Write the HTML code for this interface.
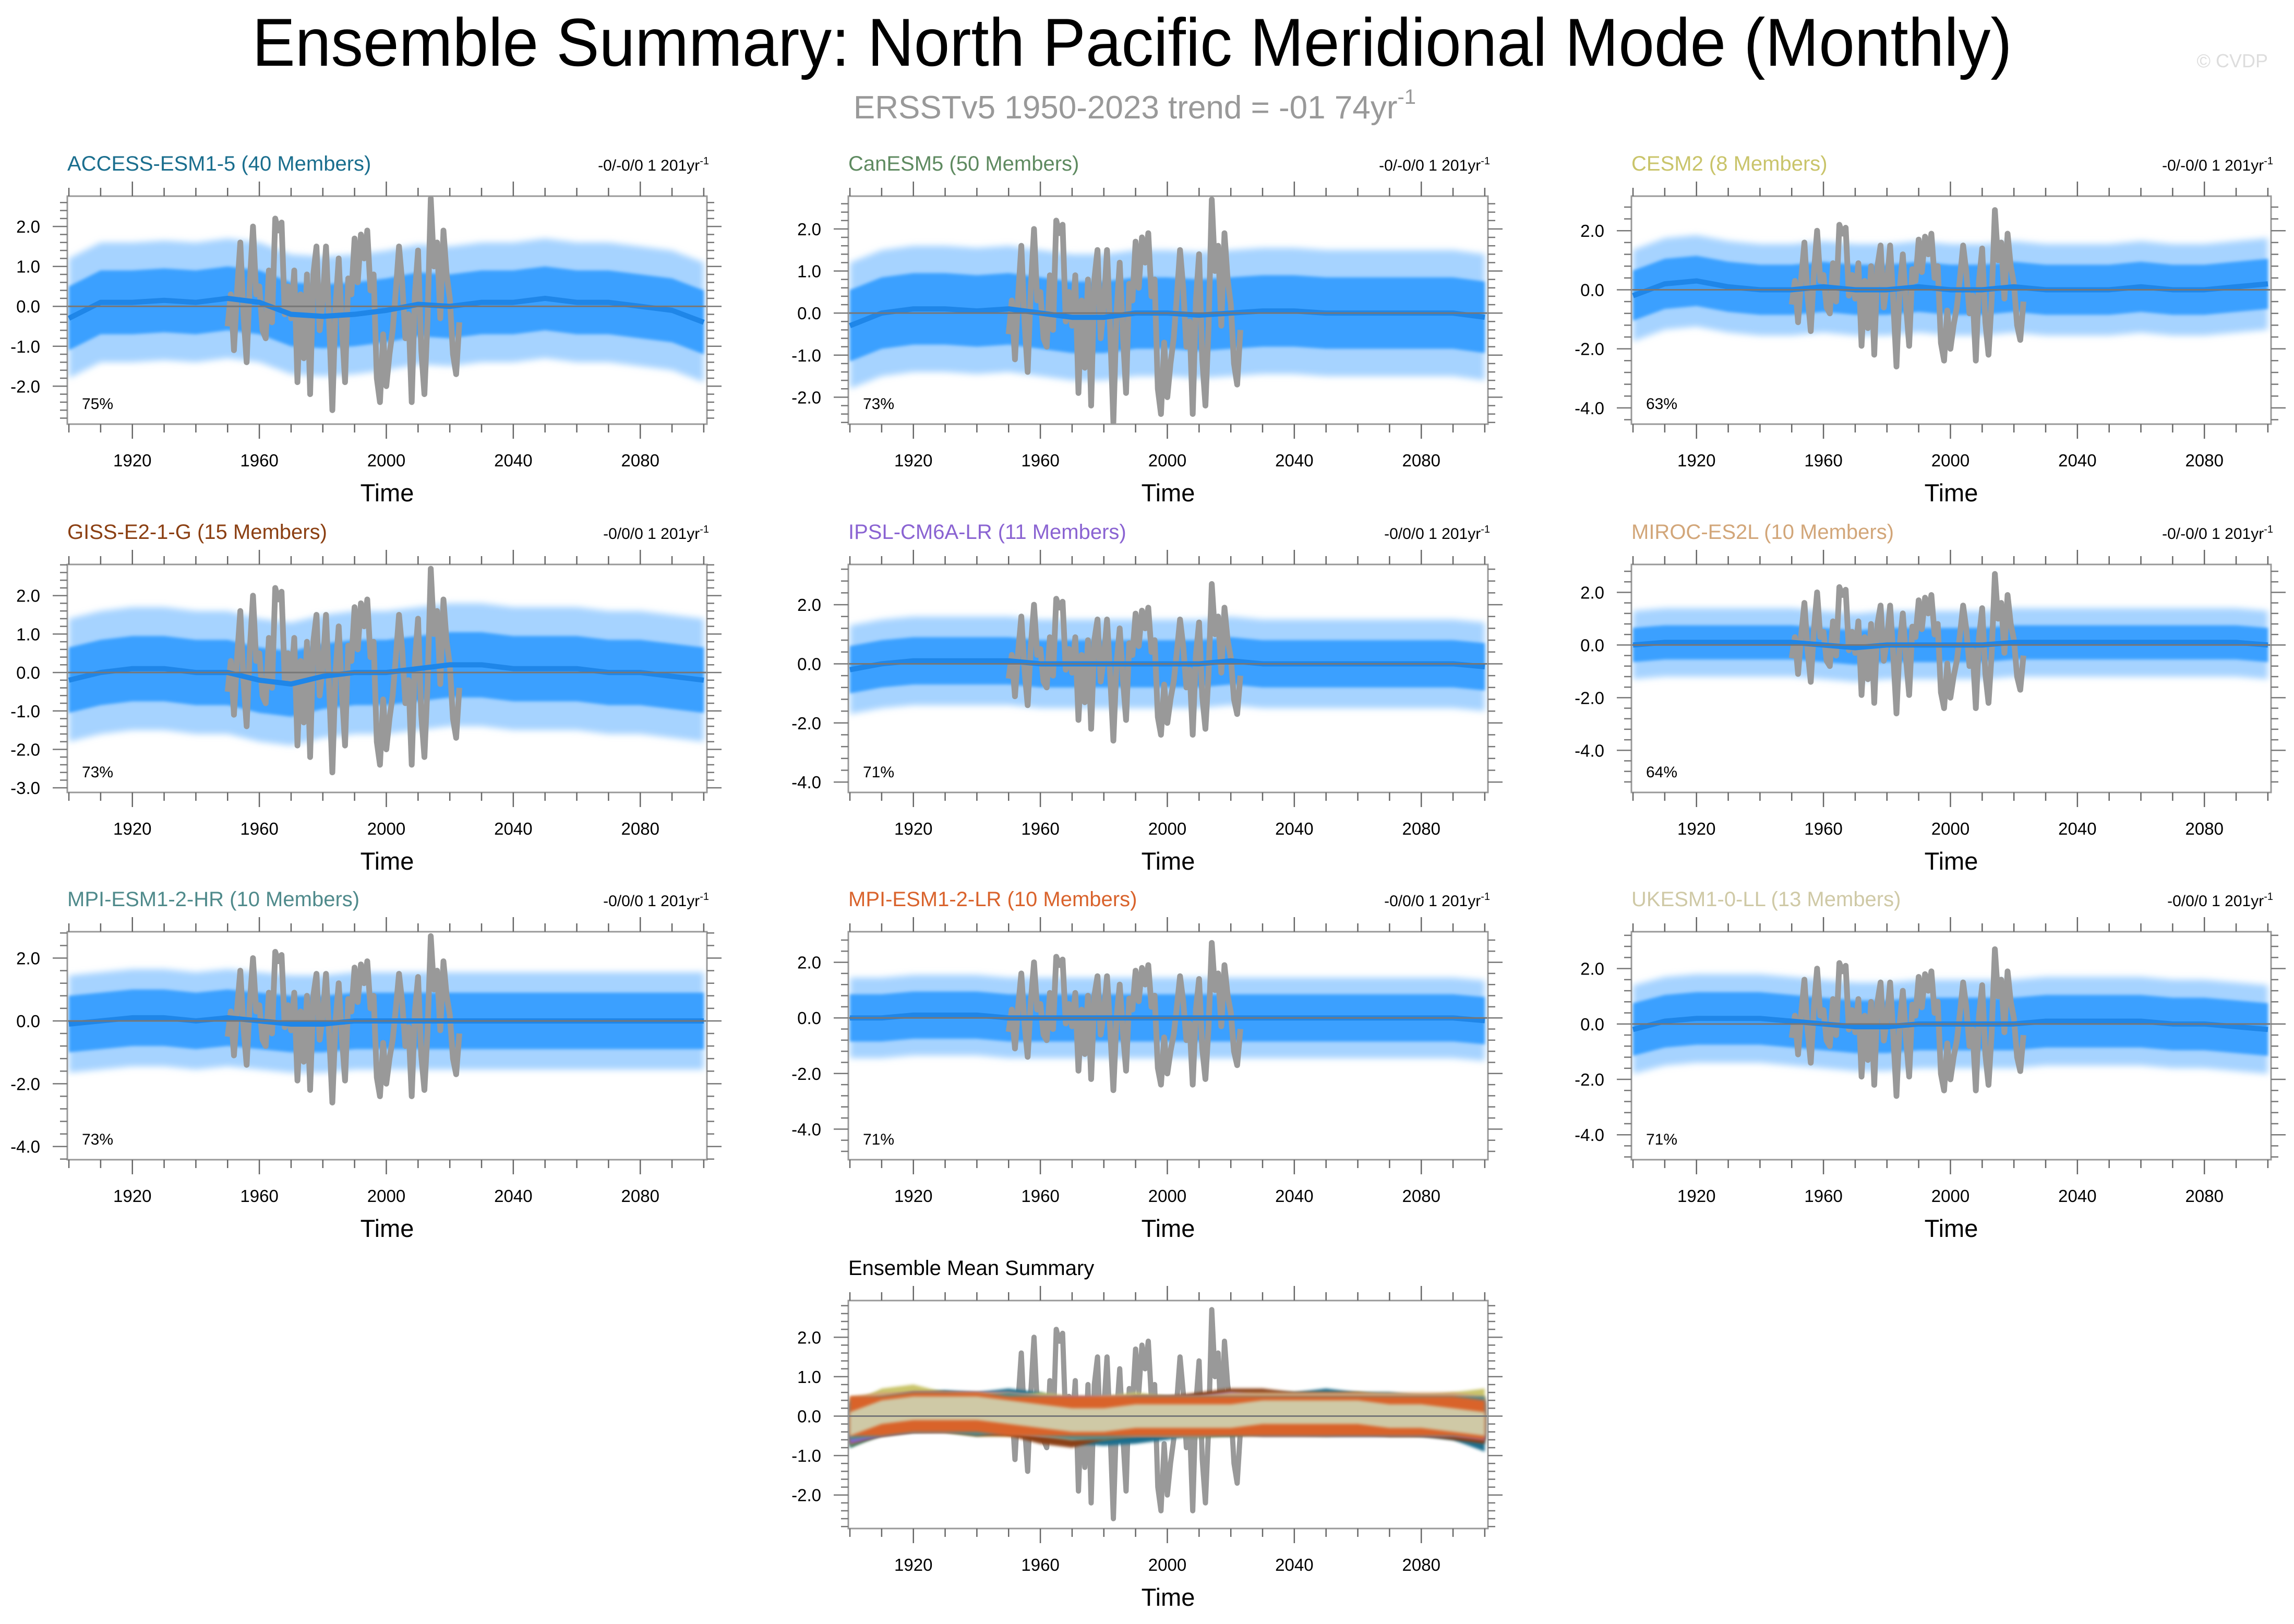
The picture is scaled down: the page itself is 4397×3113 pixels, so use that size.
<!DOCTYPE html>
<html><head><meta charset="utf-8"><style>
html,body{margin:0;padding:0;background:#fff}
svg{display:block;font-family:"Liberation Sans",sans-serif}
</style></head><body>
<svg id="chart" xmlns="http://www.w3.org/2000/svg" width="4397" height="3113" viewBox="0 0 4397 3113">
<defs>
<filter id="fuzzOuter" x="-5%" y="-30%" width="110%" height="160%"><feGaussianBlur stdDeviation="6"/></filter>
<filter id="fuzzInner" x="-5%" y="-30%" width="110%" height="160%"><feGaussianBlur stdDeviation="3"/></filter>
</defs>
<rect width="4397" height="3113" fill="#fff"/>
<text x="2170" y="126" font-size="130" text-anchor="middle" textLength="3373" lengthAdjust="spacingAndGlyphs">Ensemble Summary: North Pacific Meridional Mode (Monthly)</text>
<text x="2175" y="227" font-size="62" fill="#999" text-anchor="middle">ERSSTv5 1950-2023 trend = -01 74yr<tspan font-size="40" dy="-28">-1</tspan></text>
<text x="4347" y="129" font-size="36" fill="#ddd" text-anchor="end">© CVDP</text>
<g id="panels"></g>
</svg>
<script>
// ---- data ----
const titles = ["ACCESS-ESM1-5 (40 Members)","CanESM5 (50 Members)","CESM2 (8 Members)","GISS-E2-1-G (15 Members)","IPSL-CM6A-LR (11 Members)","MIROC-ES2L (10 Members)","MPI-ESM1-2-HR (10 Members)","MPI-ESM1-2-LR (10 Members)","UKESM1-0-LL (13 Members)"];
const modelColors = ["#1a6e8e","#5e8a60","#c9c46a","#8b3f12","#8a63d2","#d2a679","#4f8a8b","#d9632c","#cfc9a6"];
const percents = ["75%","73%","63%","73%","71%","64%","73%","71%","71%"];
const trendTexts = ["-0/-0/0 1 201yr","-0/-0/0 1 201yr","-0/-0/0 1 201yr","-0/0/0 1 201yr","-0/0/0 1 201yr","-0/-0/0 1 201yr","-0/0/0 1 201yr","-0/0/0 1 201yr","-0/0/0 1 201yr"];
const meanYears = [1900,1910,1920,1930,1940,1950,1960,1970,1980,1990,2000,2010,2020,2030,2040,2050,2060,2070,2080,2090,2100];
const meanAccess = [-0.3,0.1,0.1,0.15,0.1,0.2,0.1,-0.2,-0.25,-0.2,-0.1,0.05,0.0,0.1,0.1,0.2,0.1,0.1,0.0,-0.1,-0.4];
const meanCan = [-0.3,0.0,0.1,0.1,0.05,0.1,0.0,-0.1,-0.1,0.0,0.0,-0.05,0.0,0.05,0.05,0.0,0.0,0.0,0.0,0.0,-0.1];
const meanCesm = [-0.2,0.2,0.3,0.1,0.0,0.0,0.1,0.0,0.0,0.1,0.0,0.0,0.1,0.0,0.0,0.0,0.1,0.0,0.0,0.1,0.2];
const meanGiss = [-0.2,0.0,0.1,0.1,0.0,0.0,-0.2,-0.3,-0.1,0.0,0.0,0.1,0.2,0.2,0.1,0.1,0.1,0.0,0.0,-0.1,-0.2];
const meanIpsl = [-0.2,0.0,0.1,0.1,0.1,0.1,0.0,0.0,0.0,0.0,0.0,0.0,0.1,0.0,0.0,0.0,0.0,0.0,0.0,0.0,-0.1];
const meanMiroc = [0.0,0.1,0.1,0.1,0.1,0.1,0.0,-0.1,0.0,0.0,0.0,0.0,0.1,0.1,0.1,0.1,0.1,0.1,0.1,0.1,0.0];
const meanMpiHr = [-0.1,0.0,0.1,0.1,0.0,0.1,0.0,-0.1,-0.1,0.0,0.0,0.0,0.0,0.0,0.0,0.0,0.0,0.0,0.0,0.0,0.0];
const meanMpiLr = [0.0,0.0,0.1,0.1,0.1,0.0,0.0,0.0,0.0,0.0,0.0,0.0,0.0,0.0,0.0,0.0,0.0,0.0,0.0,0.0,-0.1];
const meanUk = [-0.2,0.1,0.2,0.2,0.2,0.1,0.0,-0.1,-0.1,0.0,0.0,0.0,0.0,0.1,0.1,0.1,0.1,0.0,0.0,-0.1,-0.2];
const means = [meanAccess,meanCan,meanCesm,meanGiss,meanIpsl,meanMiroc,meanMpiHr,meanMpiLr,meanUk];
const innerW = [0.8,0.85,0.85,0.85,0.8,0.65,0.9,0.85,0.95];
const outerW = [1.5,1.5,1.55,1.6,1.5,1.3,1.55,1.45,1.6];
const obsYears = [1950,1951,1952,1953,1954,1955,1956,1957,1958,1959,1960,1961,1962,1963,1964,1965,1966,1967,1968,1969,1970,1971,1972,1973,1974,1975,1976,1977,1978,1979,1980,1981,1982,1983,1984,1985,1986,1987,1988,1989,1990,1991,1992,1993,1994,1995,1996,1997,1998,1999,2000,2001,2002,2003,2004,2005,2006,2007,2008,2009,2010,2011,2012,2013,2014,2015,2016,2017,2018,2019,2020,2021,2022,2023];
const obsVals = [-0.5,0.3,-1.1,0.4,1.6,-0.2,-1.4,0.6,2.0,0.3,0.5,-0.6,-0.8,0.9,-0.4,2.2,1.9,2.1,-0.2,0.5,-0.3,0.9,-1.9,0.3,-1.3,0.8,-2.2,0.8,1.5,-0.6,0.2,1.5,-0.4,-2.6,0.0,1.2,-0.5,-1.9,0.7,0.3,1.7,0.6,1.8,1.2,1.9,0.4,0.8,-1.8,-2.4,-0.7,-2.0,-1.2,-0.6,0.4,1.5,0.6,-0.8,-0.2,-2.4,0.3,1.4,-1.1,-2.2,-0.3,2.7,1.0,1.6,-0.3,1.9,0.8,0.2,-1.2,-1.7,-0.4];
// axis configs
const yRanges = [[-2.95,2.76],[-2.64,2.78],[-4.55,3.17],[-3.12,2.81],[-4.35,3.36],[-5.6,3.06],[-4.42,2.84],[-5.1,3.1],[-4.9,3.33],[-2.85,2.93]];
const yMajor = [1,1,2,1,2,2,2,2,2,1];
const xTickYears = [1900,1910,1920,1930,1940,1950,1960,1970,1980,1990,2000,2010,2020,2030,2040,2050,2060,2070,2080,2090,2100];
const xLabelYears = [1920,1960,2000,2040,2080];

const NS="http://www.w3.org/2000/svg";
const root=document.getElementById('panels');
function mk(tag,attrs,parent){const e=document.createElementNS(NS,tag);for(const k in attrs)e.setAttribute(k,attrs[k]);(parent||root).appendChild(e);return e;}
const colX=[129,1626,3127], rowY=[376,1082,1786,2493], W=1226, H=437;
const X0=1899.5, X1=2101;

function drawPanel(idx,bx,by){
  const g=mk('g',{});
  
  
  const [ymin,ymax]=yRanges[idx];
  const sx=v=>bx+(v-X0)/(X1-X0)*W;
  const sy=v=>by+(ymax-v)/(ymax-ymin)*H;
  const clipId='clip'+idx;
  const cp=mk('clipPath',{id:clipId},g);mk('rect',{x:bx,y:by,width:W,height:H},cp);
  const plot=mk('g',{'clip-path':'url(#'+clipId+')'},g);
  function band(arr,w,fill,name,filt){
    let d='';
    arr.forEach((m,i)=>{d+=(i?'L':'M')+sx(meanYears[i])+','+sy(m+w);});
    for(let i=arr.length-1;i>=0;i--)d+='L'+sx(meanYears[i])+','+sy(arr[i]-w);
    const a={d:d+'Z',fill:fill};if(filt)a.filter='url(#'+filt+')';
    const p=mk('path',a,plot);
    
    
  }
  function line(xs,ys,stroke,sw,name){
    const d=ys.map((v,i)=>(i?'L':'M')+sx(xs[i])+','+sy(v)).join('');
    const p=mk('path',{d:d,fill:'none',stroke:stroke,'stroke-width':sw,'stroke-linejoin':'round'},plot);
    
    
  }
  if(idx<9){
    band(means[idx],outerW[idx],'#a6d3ff','outer-spread-band','fuzzOuter');
    band(means[idx],innerW[idx],'#3ba0ff','inner-spread-band','fuzzInner');
    line(obsYears,obsVals,'#999',11,'observed-series');
    line(meanYears,means[idx],'#1f86e8',10,'ensemble-mean-line');
  } else {
    line(obsYears,obsVals,'#999',10,'observed-series');
    for(let m=0;m<9;m++) band(means[m],m===8?0.3:0.5,modelColors[m],'ensemble-mean-'+m,'fuzzInner');
  }
  const z=mk('line',{x1:bx,x2:bx+W,y1:sy(0),y2:sy(0),stroke:'#777','stroke-width':3},g);
  
  const box=mk('rect',{x:bx,y:by,width:W,height:H,fill:'none',stroke:'#999','stroke-width':3},g);
  
  xTickYears.forEach(yr=>{
    const major=xLabelYears.includes(yr);const L=major?28:16;const x=sx(yr);
    mk('line',{x1:x,x2:x,y1:by+H,y2:by+H+L,stroke:'#666','stroke-width':2.5},g);
    mk('line',{x1:x,x2:x,y1:by,y2:by-L,stroke:'#666','stroke-width':2.5},g);
  });
  xLabelYears.forEach(yr=>{
    const t=mk('text',{x:sx(yr),y:by+H+81,'font-size':33,'text-anchor':'middle'},g);t.textContent=yr;
    
  });
  const mj=yMajor[idx],mn=mj/5;
  for(let v=Math.ceil(ymin/mn)*mn;v<=ymax+1e-9;v+=mn){
    const vv=Math.round(v*100)/100;const isM=Math.abs(vv/mj-Math.round(vv/mj))<1e-6;const L=isM?28:14;const y=sy(vv);
    mk('line',{x1:bx,x2:bx-L,y1:y,y2:y,stroke:'#777','stroke-width':2.5},g);
    mk('line',{x1:bx+W,x2:bx+W+L,y1:y,y2:y,stroke:'#777','stroke-width':2.5},g);
    if(isM){const t=mk('text',{x:bx-52,y:y+12,'font-size':33,'text-anchor':'end'},g);t.textContent=vv.toFixed(1);
      }
  }
  const xt=mk('text',{x:bx+W/2,y:by+H+148,'font-size':47,'text-anchor':'middle'},g);xt.textContent='Time';
  
  const tt=mk('text',{x:bx,y:by-49,'font-size':40,fill:idx<9?modelColors[idx]:'#000'},g);
  tt.textContent=idx<9?titles[idx]:'Ensemble Mean Summary';
  
  if(idx<9){
    const rt=mk('text',{x:bx+W+4,y:by-49,'font-size':30,'text-anchor':'end'},g);
    rt.textContent=trendTexts[idx];const sup=mk('tspan',{'font-size':20,dy:-12},rt);sup.textContent='-1';
    
    const pc=mk('text',{x:bx+28,y:by+H-29,'font-size':30},g);pc.textContent=percents[idx];
    
  }
}
for(let i=0;i<9;i++)drawPanel(i,colX[i%3],rowY[Math.floor(i/3)]);
drawPanel(9,colX[1],rowY[3]);
</script>
</body></html>
